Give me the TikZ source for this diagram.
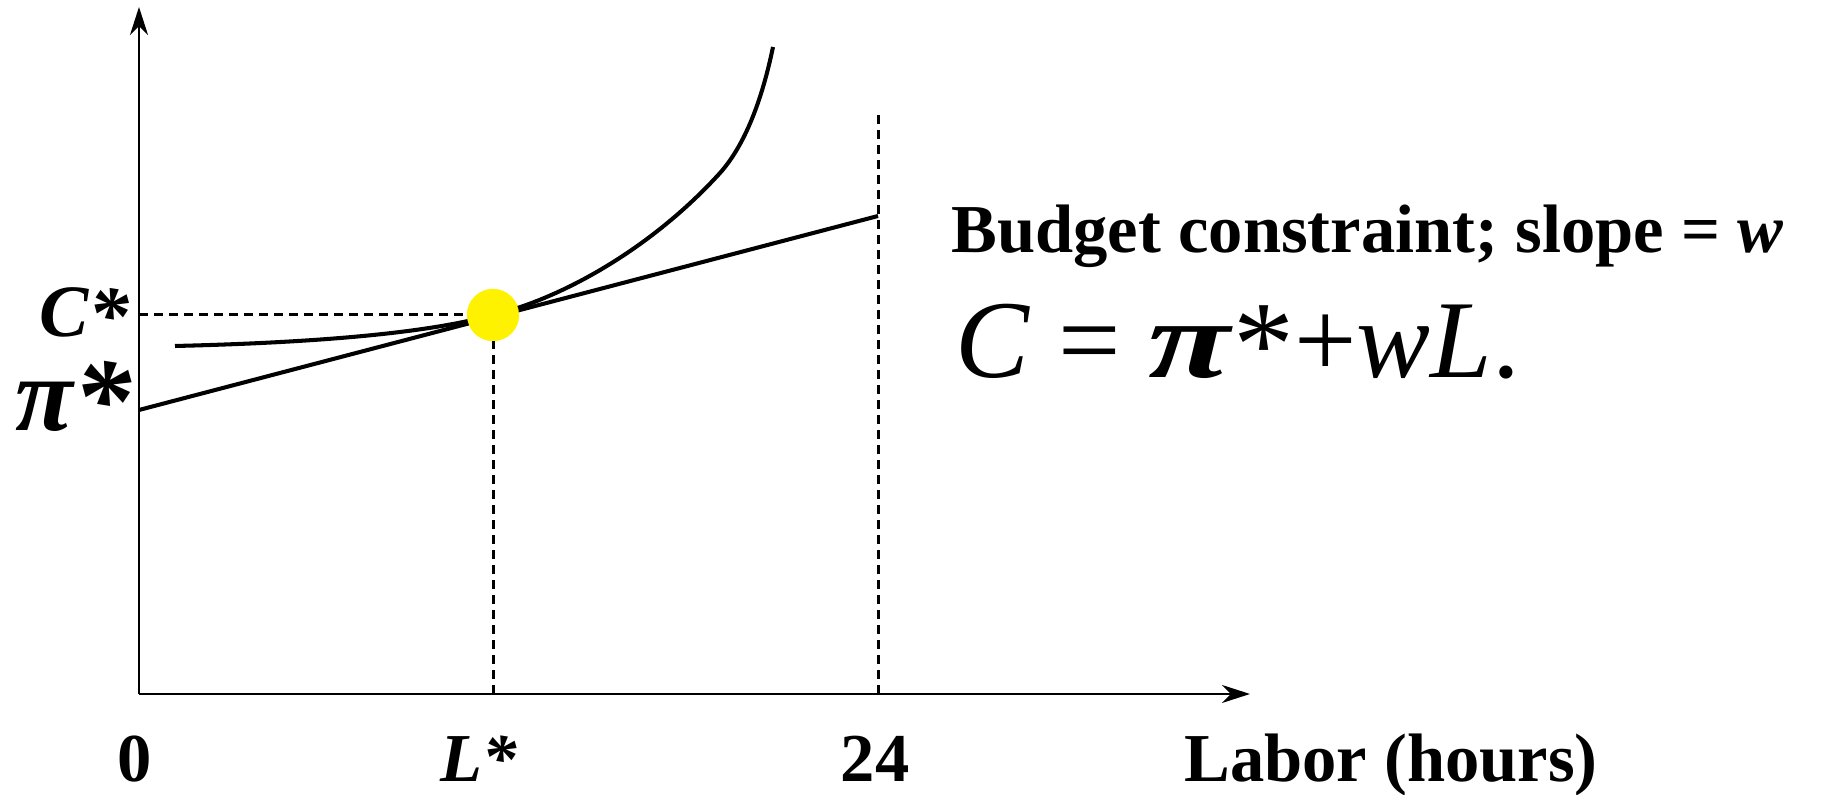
\documentclass[tikz,border=0pt]{standalone}
\usepackage{fontspec}
\usepackage{graphicx}
\setmainfont{Liberation Serif}
\usetikzlibrary{arrows.meta,positioning}
\newcommand{\bigstr}{\raisebox{-0.07em}{\scalebox{1.1}{*}}}

\begin{document}
\begin{tikzpicture}[
  x=0.01cm, y=-0.01cm,
  >={Stealth[length=0.28cm, width=0.18cm, inset=0.09cm]},
  axis/.style={line width=0.6pt, ->},
  curve/.style={line width=1.15pt},
  guide/.style={line width=0.85pt, dash pattern=on 0.09cm off 0.06cm},
  tick/.style={font=\fontsize{19.5}{20}\selectfont\bfseries, anchor=base},
  lbl/.style={inner sep=0pt, anchor=base east},
  dot/.style={circle, fill=yellow, inner sep=0pt, minimum size=0.52cm}
]

% Frame
\useasboundingbox (0,0) rectangle (1845,795);

% Achsen
\coordinate (o)     at (139, 694);
\coordinate (ytop)  at (139, 7);
\coordinate (xend)  at (1250, 694);
\draw[axis] (o) -- (ytop);
\draw[axis] (o) -- (xend);

% -- Punkte --
\coordinate (pi)    at (139, 410);
\coordinate (cstar) at (139, 315);
\coordinate (lstar) at (493, 694);
\coordinate (h24)   at (878, 694);
\coordinate (h24top)at (878, 113);
\coordinate (bend)  at (878, 216);
\coordinate (ustart)at (175, 346);
\coordinate (ubend) at (720, 173);
\coordinate (uend)  at (773, 47);
\node[dot] (opt) at (493, 315) {};

% -- Hilfslinien --
\draw[guide] (cstar) -- (opt.center);
\draw[guide] (lstar) -- (opt.center);
\draw[guide] (h24) -- (h24top);

% -- Budgetgerade --
\draw[curve] (pi) -- (bend);

% -- Indifferenzkurve --
\draw[curve] (ustart) .. controls (300, 343) and (420, 335) .. (opt.center)
  .. controls (560, 299) and (650, 250) .. (ubend)
  .. controls (745, 145) and (762, 100) .. (uend);

% Optimum oben
\node[dot] (opt2) at (opt) {};

% -- Achsenbeschriftung --
\node[lbl, font=\fontsize{21}{22}\selectfont\bfseries\itshape] (clab) at (130, 337) {C\bigstr};
\node[lbl, font=\fontsize{30}{31}\selectfont\bfseries\itshape] (pilab) at (132, 431) {π\bigstr};
\node[tick] (zero)  at (135, 782) {0};
\node[tick, font=\fontsize{19.5}{20}\selectfont\bfseries\itshape] (llab) at (479, 782) {L*};
\node[tick] (t24)   at (875, 782) {24};
\node[tick] (labor) at (1391, 782) {Labor (hours)};

% -- Text rechts --
\node[inner sep=0pt, anchor=base west, font=\fontsize{19.5}{20}\selectfont\bfseries] (budget) at (951, 253)
  {Budget constraint; slope = \textit{w}};
\node[inner sep=0pt, anchor=base west, font=\fontsize{31.5}{33}\selectfont] (eq) at (955, 378)
  {\textit{C} = \scalebox{1.35}[1]{\textbf{\textit{π}}}\bigstr+\textit{wL}.};

\end{tikzpicture}
\end{document}
